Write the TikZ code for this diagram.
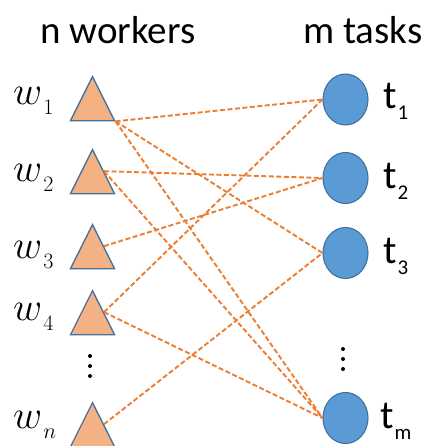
\RequirePackage{fix-cm}
\documentclass[tikz,border=0pt]{standalone}
\usepackage{fontspec}
\setmainfont{Carlito}
\usetikzlibrary{shapes.geometric}

\definecolor{workerfill}{HTML}{F4B183}
\definecolor{rimblue}{HTML}{41719C}
\definecolor{taskfill}{HTML}{5B9BD5}
\definecolor{linkorange}{HTML}{ED7D31}

% worker label: italic w with a small subscript
\newcommand{\wlab}[1]{\fontsize{40}{40}\selectfont$w$\kern1pt\raisebox{-10pt}{\fontsize{22}{22}\selectfont$#1$}}
% task label: upright t with a small subscript
\newcommand{\tlab}[1]{\fontsize{40}{40}\selectfont t\kern1pt\raisebox{-11pt}{\fontsize{21}{21}\selectfont #1}}

\begin{document}
\begin{tikzpicture}[x=1pt,y=-1pt,
  worker/.style={isosceles triangle, shape border rotate=90,
    isosceles triangle stretches, minimum width=44pt, minimum height=44pt,
    inner sep=0pt, draw=rimblue, fill=workerfill, line width=1.3pt, anchor=apex},
  task/.style={ellipse, minimum width=45pt, minimum height=51pt, inner sep=0pt,
    draw=rimblue, fill=taskfill, line width=1.1pt},
  linkline/.style={draw=linkorange, line width=1.9pt, dash pattern=on 5pt off 2.5pt},
  heading/.style={font=\fontsize{39}{39}\selectfont, inner sep=0pt, anchor=base west},
  lab/.style={inner sep=0pt, anchor=base west},
  dotmark/.style={circle, fill=black, inner sep=0pt, minimum size=4pt}
]
\useasboundingbox (0,0) rectangle (423,446);

% column headings
\node[heading] (hw) at (40,44) {n workers};
\node[heading] (ht) at (303,44) {m tasks};

% workers
\node[worker] (w1) at (92.5,75) {};
\node[worker] (w2) at (92.5,148) {};
\node[worker] (w3) at (92.5,223) {};
\node[worker] (w4) at (92.5,289) {};
\node[worker] (wn) at (92.5,401) {};

% tasks
\node[task] (t1) at (345.5,99.5) {};
\node[task] (t2) at (345.5,178) {};
\node[task] (t3) at (345.5,253) {};
\node[task] (tm) at (345.5,418) {};

% labels
\node[lab] (lw1) at (13,105) {\wlab{1}};
\node[lab] (lw2) at (13,182) {\wlab{2}};
\node[lab] (lw3) at (13,258) {\wlab{3}};
\node[lab] (lw4) at (13,320) {\wlab{4}};
\node[lab] (lwn) at (13,428) {\wlab{n}};
\node[lab] (lt1) at (383,109) {\tlab{1}};
\node[lab] (lt2) at (383,189) {\tlab{2}};
\node[lab] (lt3) at (383,263) {\tlab{3}};
\node[lab] (ltm) at (380,428) {\tlab{m}};

% vertical ellipses
\node[dotmark] (dl1) at (90,356) {};
\node[dotmark] (dl2) at (90,366) {};
\node[dotmark] (dl3) at (90,376) {};
\node[dotmark] (dr1) at (343,349) {};
\node[dotmark] (dr2) at (343,359) {};
\node[dotmark] (dr3) at (343,369) {};

% assignments
\draw[linkline] (w1.right corner) -- (t1.west);
\draw[linkline] (w1.right corner) -- (t3.west);
\draw[linkline] (w1.right corner) -- (tm.west);
\draw[linkline] (w2.right side) -- (t2.west);
\draw[linkline] (w2.right side) -- (tm.west);
\draw[linkline] (w3.right side) -- (t2.west);
\draw[linkline] (w4.right side) -- (t1.west);
\draw[linkline] (w4.right side) -- (tm.west);
\draw[linkline] (wn.right side) -- (t3.west);
\end{tikzpicture}
\end{document}
